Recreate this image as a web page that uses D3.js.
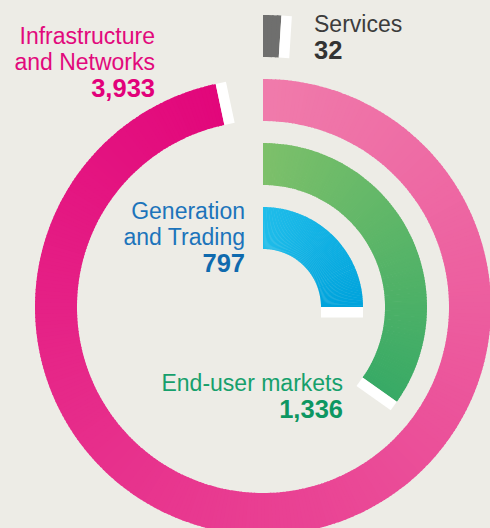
<!DOCTYPE html>
<html>
<head>
<meta charset="utf-8">
<script src="https://cdn.jsdelivr.net/npm/d3@7"></script>
<style>
  html, body { margin: 0; padding: 0; background: #edece6; }
  svg { display: block; }
  text { font-family: "Liberation Sans", Arial, Helvetica, sans-serif; }
</style>
</head>
<body>
<svg id="chart"></svg>
<script>
// segment data, outer ring first
var segments = ['Services', 'Infrastructure and Networks', 'End-user markets', 'Generation and Trading'];
var labelLines = [['Services'], ['Infrastructure', 'and Networks'], ['End-user markets'], ['Generation', 'and Trading']];
var values = [32, 3933, 1336, 797];
var valueLabels = ['32', '3,933', '1,336', '797'];

var width = 490, height = 528;
var cx = 263, cy = 307;

// colours: [start, end] of each ring, plus text colours
var ringColors = {
    'Services': ['#6f6f6e', '#6f6f6e'],
    'Infrastructure and Networks': ['#f07bab', '#e2077b'],
    'End-user markets': ['#7dc06a', '#38aa66'],
    'Generation and Trading': ['#20bdea', '#00a3dc']
};
var textColors = {
    'Services': ['#3c3c3c', '#333333'],
    'Infrastructure and Networks': ['#e2097c', '#e2007a'],
    'End-user markets': ['#16a06c', '#0d9762'],
    'Generation and Trading': ['#1c74bb', '#0f6aae']
};
// label placement: anchor, x, first baseline
var labelPos = {
    'Services': ['start', 314, 32],
    'Infrastructure and Networks': ['end', 155, 44],
    'End-user markets': ['end', 343, 391],
    'Generation and Trading': ['end', 245, 219]
};

var svg = d3.select('#chart').attr('width', width).attr('height', height);

// rings, inner to outer
var radius = d3.scaleBand()
    .domain(segments.slice().reverse())
    .range([58, 292])
    .paddingInner(0.344);

// the artwork's sweep is not proportional, so use a piecewise angular scale (degrees)
var angle = d3.scaleLinear()
    .domain([0, 800, 1400, 4000])
    .range([0, 90.3, 129.5, 353.8]);

var arc = d3.arc();
var rad = Math.PI / 180;

var g = svg.append('g').attr('transform', 'translate(' + cx + ',' + cy + ')');

segments.forEach(function(name, i) {
    var r0 = radius(name), r1 = r0 + radius.bandwidth();
    var end = angle(values[i]);
    var col = d3.interpolateRgb(ringColors[name][0], ringColors[name][1]);
    var n = Math.max(1, Math.ceil(end));
    var step = end / n;
    var slices = d3.range(n).map(function(k) {
        return {a0: k * step, a1: Math.min(end, (k + 1) * step + (k < n - 1 ? 0.3 : 0)), t: (k + 0.5) / n};
    });

    var ring = g.append('g').attr('class', 'ring');
    ring.selectAll('path')
        .data(slices)
        .enter().append('path')
        .attr('d', function(d) {
            return arc({innerRadius: r0, outerRadius: r1, startAngle: d.a0 * rad, endAngle: d.a1 * rad});
        })
        .attr('fill', function(d) { return col(d.t); });

    // white end cap
    ring.append('rect')
        .attr('x', 0)
        .attr('y', -r1)
        .attr('width', 10.5)
        .attr('height', r1 - r0)
        .attr('fill', '#ffffff')
        .attr('transform', 'rotate(' + end + ')');

    // labels
    var p = labelPos[name];
    var t = svg.append('text')
        .attr('text-anchor', p[0]);
    labelLines[i].forEach(function(line, j) {
        t.append('tspan')
            .attr('x', p[1])
            .attr('y', p[2] + j * 26)
            .attr('fill', textColors[name][0])
            .style('font-size', '23px')
            .text(line);
    });
    t.append('tspan')
        .attr('x', p[1])
        .attr('y', p[2] + labelLines[i].length * 26 + 1)
        .attr('fill', textColors[name][1])
        .style('font-size', '25.5px')
        .style('font-weight', 'bold')
        .text(valueLabels[i]);
});
</script>
</body>
</html>
